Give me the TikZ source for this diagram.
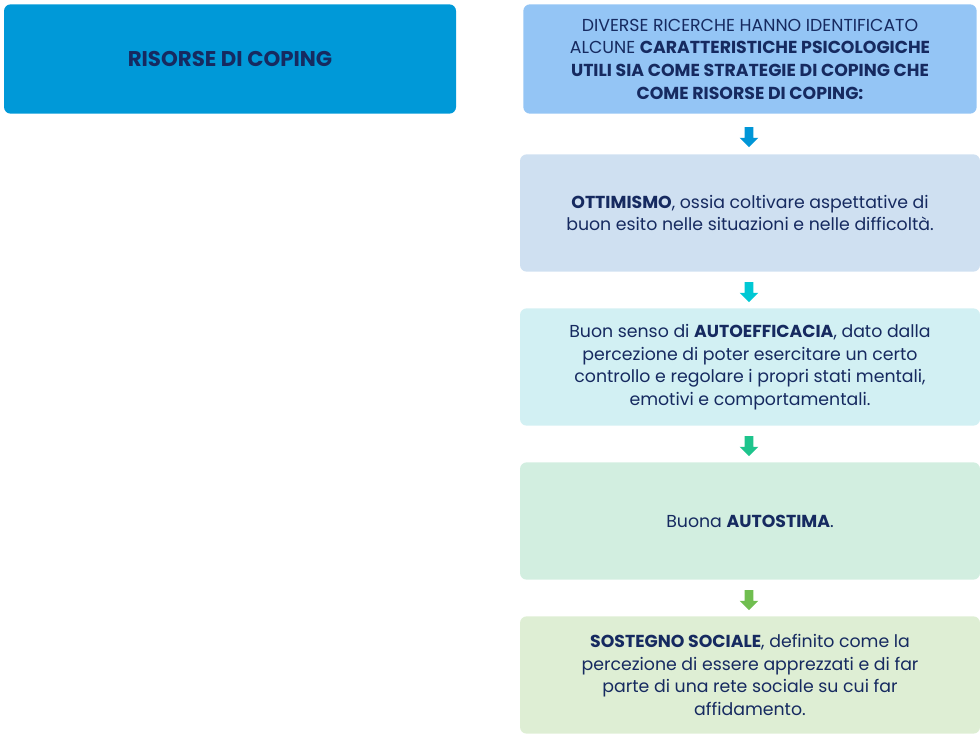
\documentclass[tikz,border=0pt]{standalone}
\usepackage{fontspec}
\setmainfont{Poppins}
\usetikzlibrary{shapes.arrows}
\definecolor{navy}{RGB}{22,42,96}
\definecolor{titleblue}{RGB}{0,153,216}
\definecolor{boxA}{RGB}{148,197,245}
\definecolor{boxB}{RGB}{207,224,241}
\definecolor{boxC}{RGB}{210,240,243}
\definecolor{boxD}{RGB}{210,238,224}
\definecolor{boxE}{RGB}{222,238,212}
\definecolor{arrA}{RGB}{0,150,215}
\definecolor{arrB}{RGB}{0,200,212}
\definecolor{arrC}{RGB}{30,196,140}
\definecolor{arrD}{RGB}{112,190,80}
\tikzset{
    panel/.style = {
        rounded corners=5pt,
        inner sep=0pt,
        text=navy,
        align=center,
        font=\fontsize{13}{17}\selectfont,
        },
    downarrow/.style = {
        single arrow,
        shape border rotate=270,
        single arrow head extend=3pt,
        minimum width=14pt,
        minimum height=15pt,
        inner sep=2.5pt,
        },
}
\begin{document}
\begin{tikzpicture}[x=0.75pt,y=-0.75pt]
    \useasboundingbox (0,0) rectangle (980,735);
    \node[panel, fill=titleblue, minimum width=339pt, minimum height=82pt,
        font=\fontsize{16}{19}\selectfont\bfseries] (title) at (230,59) {RISORSE DI COPING};
    \node[panel, fill=boxA, minimum width=340pt, minimum height=82pt] (intro) at (750,59)
        {DIVERSE RICERCHE HANNO IDENTIFICATO\\ ALCUNE \textbf{CARATTERISTICHE PSICOLOGICHE}\\ \textbf{UTILI SIA COME STRATEGIE DI COPING CHE}\\ \textbf{COME RISORSE DI COPING:}};
    \node[panel, fill=boxB, minimum width=345pt, minimum height=88pt] (ottimismo) at (750,213)
        {\textbf{OTTIMISMO}, ossia coltivare aspettative di\\ buon esito nelle situazioni e nelle difficoltà.};
    \node[panel, fill=boxC, minimum width=345pt, minimum height=88pt] (autoefficacia) at (750,367)
        {Buon senso di \textbf{AUTOEFFICACIA}, dato dalla\\ percezione di poter esercitare un certo\\ controllo e regolare i propri stati mentali,\\ emotivi e comportamentali.};
    \node[panel, fill=boxD, minimum width=345pt, minimum height=88pt] (autostima) at (750,521)
        {Buona \textbf{AUTOSTIMA}.};
    \node[panel, fill=boxE, minimum width=345pt, minimum height=88pt] (sostegno) at (750,675)
        {\textbf{SOSTEGNO SOCIALE}, definito come la\\ percezione di essere apprezzati e di far\\ parte di una rete sociale su cui far\\ affidamento.};

    \node[downarrow, fill=arrA] (a1) at (749,135) {};
    \node[downarrow, fill=arrB] (a2) at (749,290) {};
    \node[downarrow, fill=arrC] (a3) at (749,444) {};
    \node[downarrow, fill=arrD] (a4) at (749,598) {};
\end{tikzpicture}
\end{document}
